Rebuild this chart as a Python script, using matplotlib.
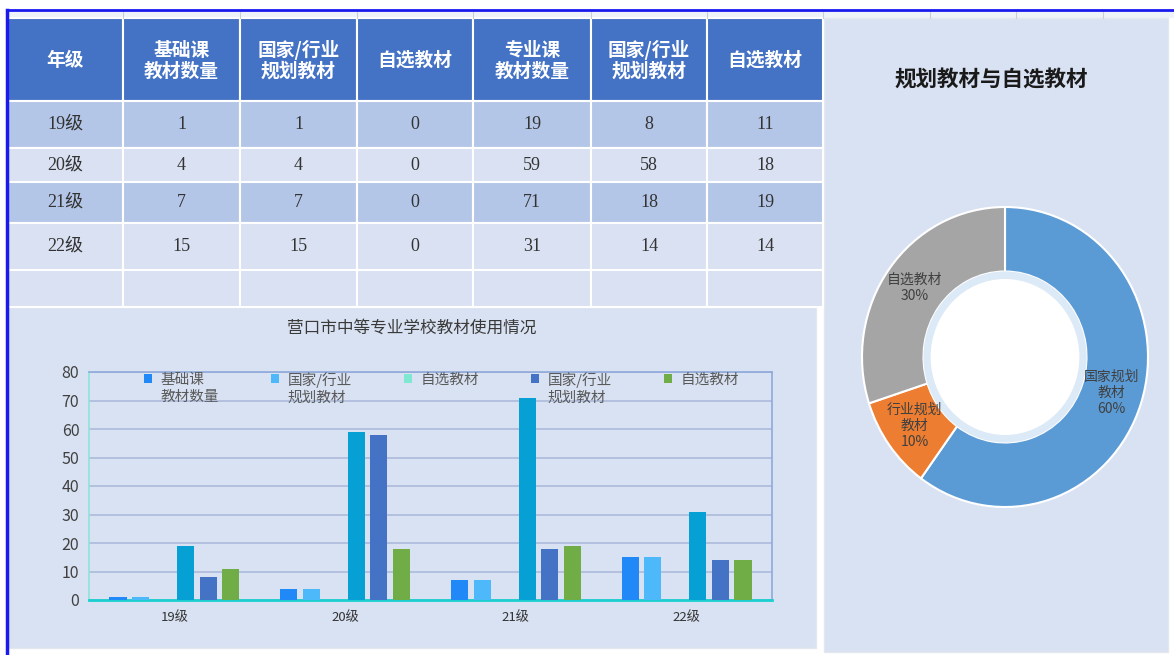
import numpy as np
import matplotlib
matplotlib.use("Agg")
import matplotlib.pyplot as plt
from matplotlib.patches import Rectangle, Circle
from matplotlib.legend_handler import HandlerPatch

plt.rcParams['font.family'] = ['Noto Sans CJK SC', 'DejaVu Sans']

# ---- data ----
grades = ['19级', '20级', '21级', '22级']
basic_total = [1, 4, 7, 15]
basic_planned = [1, 4, 7, 15]
basic_self = [0, 0, 0, 0]
major_total = [19, 59, 71, 31]
major_planned = [8, 58, 18, 14]
major_self = [11, 18, 19, 14]

headers = ['年级', '基础课\n教材数量', '国家/行业\n规划教材', '自选教材',
           '专业课\n教材数量', '国家/行业\n规划教材', '自选教材']
series_names = ['基础课\n教材数量', '国家/行业\n规划教材', '自选教材',
                '专业课\n教材数量', '国家/行业\n规划教材', '自选教材']
series_colors = ['#2188F7', '#4DB9FA', '#7EE8D2', '#07A0D4', '#4472C4', '#70AD47']

pie_names = ['国家规划\n教材', '行业规划\n教材', '自选教材']
pie_shares = [60, 10, 30]
pie_colors = ['#5B9BD5', '#ED7D31', '#A5A5A5']

bar_title = '营口市中等专业学校教材使用情况'
pie_title = '规划教材与自选教材'

# ---- layout (pixels) ----
W, H = 1174, 655
col_edges = [8, 123, 240, 357, 473, 591, 707, 823]
row_edges = [18, 101, 148, 182, 223, 270, 307]
row_colors = ['#B4C6E7', '#D9E1F2', '#B4C6E7', '#D9E1F2', '#D9E1F2']

fig = plt.figure(figsize=(W / 100, H / 100), dpi=100)
bg = fig.add_axes([0, 0, 1, 1])
bg.set_xlim(0, W)
bg.set_ylim(H, 0)
bg.axis('off')

# spreadsheet strip on top
bg.add_patch(Rectangle((8, 10), W - 8, 8, facecolor='#EEF3F9', edgecolor='none'))
for xe in col_edges[1:] + [930, 1016, 1103]:
    bg.plot([xe, xe], [11, 18], color='#C9CFD8', lw=0.8)
bg.plot([7, W], [10, 10], color='#1A1AF0', lw=2)
bg.plot([7, 7], [10, H], color='#1A1AF0', lw=2.5)

# panels
bg.add_patch(Rectangle((8, 307), 808, 341, facecolor='#D9E2F2', edgecolor='#E4E8EE', lw=1))
bg.add_patch(Rectangle((824, 18), 344, 634, facecolor='#D9E2F2', edgecolor='#E4E8EE', lw=1))

# table
rows = list(zip(grades, basic_total, basic_planned, basic_self,
                major_total, major_planned, major_self))
for c in range(len(headers)):
    x0, x1 = col_edges[c], col_edges[c + 1]
    bg.add_patch(Rectangle((x0, row_edges[0]), x1 - x0, row_edges[1] - row_edges[0],
                           facecolor='#4472C4', edgecolor='white', lw=1.5))
    bg.text((x0 + x1) / 2, (row_edges[0] + row_edges[1]) / 2 + 1, headers[c],
            ha='center', va='center', color='white', fontsize=13.5, fontweight='bold',
            linespacing=1.12)
    for r in range(5):
        y0, y1 = row_edges[r + 1], row_edges[r + 2]
        bg.add_patch(Rectangle((x0, y0), x1 - x0, y1 - y0,
                               facecolor=row_colors[r], edgecolor='white', lw=1.5))
        if r < len(rows):
            bg.text((x0 + x1) / 2, (y0 + y1) / 2, str(rows[r][c]),
                    ha='center', va='center', color='#333333', fontsize=13,
                    family=['Liberation Serif', 'Noto Sans CJK SC'])

bg.text(412, 328, bar_title, ha='center', va='center', fontsize=12, color='#3A3A3A')
bg.text(991, 80, pie_title, ha='center', va='center', fontsize=15.5,
        fontweight='bold', color='#1A1A1A')

# ---- bar chart ----
ax = fig.add_axes([89 / W, (H - 600) / H, 683 / W, 228 / H])
ax.patch.set_alpha(0)
x = np.arange(len(grades))
step, width = 0.132, 0.1
all_series = [basic_total, basic_planned, basic_self,
              major_total, major_planned, major_self]
bars = []
for i, vals in enumerate(all_series):
    b = ax.bar(x + (i - 2.5) * step, vals, width, color=series_colors[i], zorder=3)
    bars.append(b)

ax.set_xlim(-0.5, 3.5)
ax.set_ylim(0, 80)
ax.set_yticks(range(0, 81, 10))
ax.set_xticks(x)
ax.set_xticklabels(grades, fontsize=9.5, color='#333333', fontweight='medium')
ax.tick_params(axis='both', length=0)
ax.tick_params(axis='y', labelsize=11.5, labelcolor='#404040', pad=7)
ax.tick_params(axis='x', pad=8)
ax.grid(axis='y', color='#A8B8D8', lw=1.1, zorder=0)
ax.spines['top'].set_color('#8EA9DB')
ax.spines['right'].set_color('#8EA9DB')
ax.spines['left'].set_color('#8FE3DA')
ax.spines['bottom'].set_color('#1ACFCF')
ax.spines['bottom'].set_linewidth(2)
for s in ['top', 'right', 'left']:
    ax.spines[s].set_linewidth(1.2)


def top_square(legend, orig_handle, xdescent, ydescent, width, height, fontsize):
    # square marker lined up with the first text line
    return Rectangle((-xdescent, -ydescent + 0.7 * fontsize), width, height)


keep = [0, 1, 2, 4, 5]
leg_labels = [series_names[i] if '\n' in series_names[i] else series_names[i] + '\n '
              for i in keep]
leg = ax.legend([bars[i].patches[0] for i in keep], leg_labels,
                ncol=5, loc='upper left', bbox_to_anchor=((144 - 89) / 683, 1.0),
                frameon=False, fontsize=10.5, handlelength=0.55, handleheight=0.55,
                handletextpad=0.6, columnspacing=3.55, borderpad=0, borderaxespad=0,
                handler_map={Rectangle: HandlerPatch(patch_func=top_square)})
for t in leg.get_texts():
    t.set_color('#595959')
    t.set_linespacing(1.3)

# ---- donut ----
cx, cy, rx, ry, lim = 1005, 357, 143, 150, 1.05
pax = fig.add_axes([(cx - rx * lim) / W, (H - cy - ry * lim) / H,
                    2 * rx * lim / W, 2 * ry * lim / H])
labels = [f'{n}\n{s}%' for n, s in zip(pie_names, pie_shares)]
wedges, texts = pax.pie(pie_shares, colors=pie_colors, startangle=90, counterclock=False,
                        labels=labels, labeldistance=0.78,
                        wedgeprops=dict(width=0.43, edgecolor='white', linewidth=1.5),
                        textprops=dict(fontsize=10, color='#404040'))
for t in texts:
    t.set_ha('center')
    t.set_va('center')
    t.set_linespacing(1.2)
pax.add_patch(Circle((0, 0), 0.57, facecolor='#DCE9F6', edgecolor='none'))
pax.add_patch(Circle((0, 0), 0.52, facecolor='white', edgecolor='none'))
pax.set_aspect('auto')
pax.set_xlim(-lim, lim)
pax.set_ylim(-lim, lim)
pax.axis('off')

fig.savefig('out.png', dpi=100)
